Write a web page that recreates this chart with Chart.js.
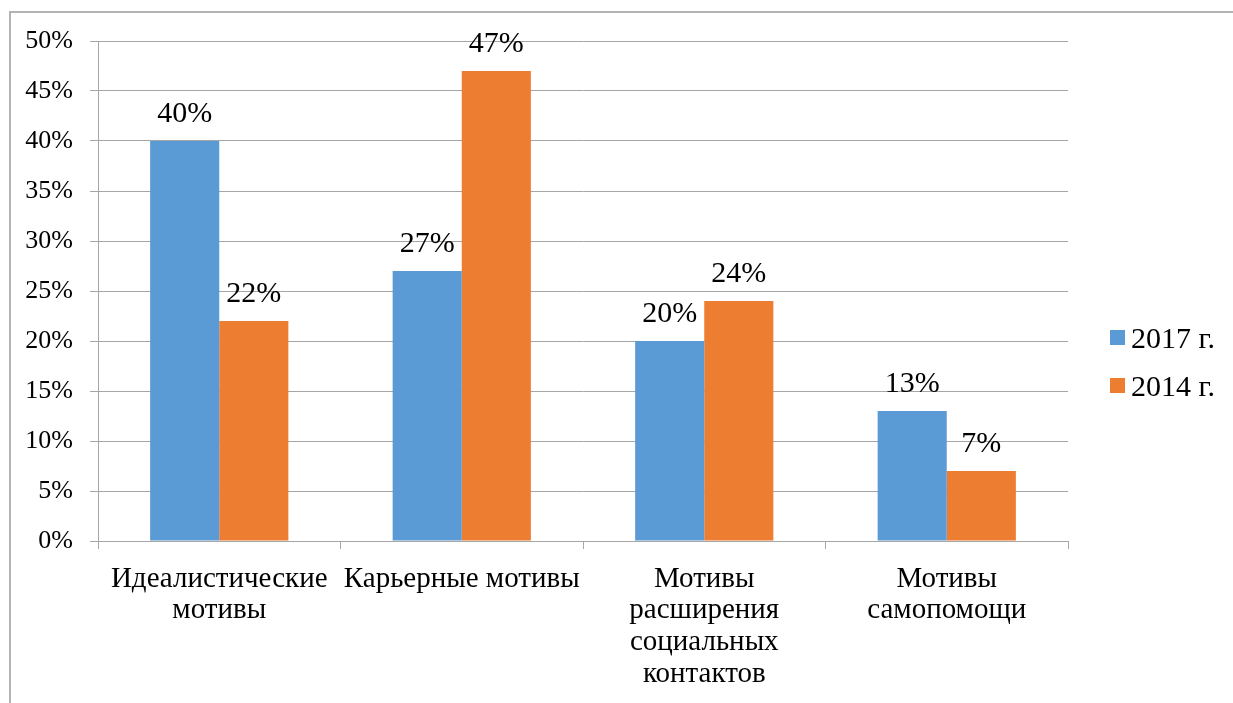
<!DOCTYPE html>
<html>
<head>
<meta charset="utf-8">
<script src="https://cdn.jsdelivr.net/npm/chart.js@4/dist/chart.umd.min.js"></script>
<style>
  html, body { margin: 0; padding: 0; background: #fff; }
  #wrap { position: relative; width: 1233px; height: 703px; overflow: hidden; }
  #frame { position: absolute; left: 9px; top: 11px; right: -5px; bottom: -5px;
           border-left: 2px solid #b4b4b4; border-top: 2px solid #b4b4b4; }
  #chart { position: absolute; left: 0; top: 0; }
</style>
</head>
<body>
<div id="wrap">
  <div id="frame"></div>
  <canvas id="chart" width="1233" height="703"></canvas>
</div>
<script>
// Chart data
const categories = [
  ["Идеалистические", "мотивы"],
  "Карьерные мотивы",
  ["Мотивы", "расширения", "социальных", "контактов"],
  ["Мотивы", "самопомощи"]
];
const seriesNames = ["2017 г.", "2014 г."];
const values2017 = [40, 27, 20, 13];
const values2014 = [22, 47, 24, 7];
const yTicks = { min: 0, max: 50, step: 5 };

const FONT = "'Liberation Serif', 'Times New Roman', serif";
const GRID = "#a6a6a6";
const colors = ["#5B9BD5", "#ED7D31"];

// Draw percentage labels above each bar
const barLabels = {
  id: "barLabels",
  afterDatasetsDraw(chart) {
    const ctx = chart.ctx;
    ctx.save();
    ctx.font = "30px " + FONT;
    ctx.fillStyle = "#000";
    ctx.textAlign = "center";
    ctx.textBaseline = "alphabetic";
    chart.data.datasets.forEach((ds, i) => {
      chart.getDatasetMeta(i).data.forEach((bar, j) => {
        ctx.fillText(ds.data[j] + "%", bar.x, bar.y - 19);
      });
    });
    ctx.restore();
  },
};

// Simple legend on the right side
const sideLegend = {
  id: "sideLegend",
  afterDraw(chart) {
    const ctx = chart.ctx;
    const x = chart.chartArea.right + 42;
    ctx.save();
    ctx.font = "30px " + FONT;
    ctx.textBaseline = "alphabetic";
    chart.data.datasets.forEach((ds, i) => {
      const y = 330 + i * 48;
      ctx.fillStyle = ds.backgroundColor;
      ctx.fillRect(x, y, 15, 15);
      ctx.fillStyle = "#000";
      ctx.fillText(ds.label, x + 21, y + 18);
    });
    ctx.restore();
  },
};

new Chart(document.getElementById("chart"), {
  type: "bar",
  data: {
    labels: categories,
    datasets: [
      { label: seriesNames[0], data: values2017, backgroundColor: colors[0] },
      { label: seriesNames[1], data: values2014, backgroundColor: colors[1] },
    ],
  },
  options: {
    responsive: false,
    animation: false,
    layout: { padding: { top: 41, left: 0, right: 165, bottom: 0 } },
    datasets: { bar: { barPercentage: 1, categoryPercentage: 0.57 } },
    plugins: { legend: { display: false }, tooltip: { enabled: false } },
    scales: {
      x: {
        grid: { offset: true, drawOnChartArea: false, drawTicks: true, tickLength: 8, color: GRID, lineWidth: 1 },
        border: { color: GRID, width: 1 },
        ticks: { color: "#000", font: { family: FONT, size: 29, lineHeight: 1.1 }, padding: 14, maxRotation: 0, autoSkip: false },
        afterFit(scale) { scale.height = 162; },
      },
      y: {
        min: yTicks.min,
        max: yTicks.max,
        grid: { color: GRID, lineWidth: 1, tickLength: 8 },
        border: { color: GRID, width: 1 },
        ticks: {
          stepSize: yTicks.step,
          color: "#000",
          font: { family: FONT, size: 26 },
          padding: 17,
          callback: (v) => v + "%",
        },
        afterFit(scale) { scale.width = 98; },
      },
    },
  },
  plugins: [barLabels, sideLegend],
});
</script>
</body>
</html>
